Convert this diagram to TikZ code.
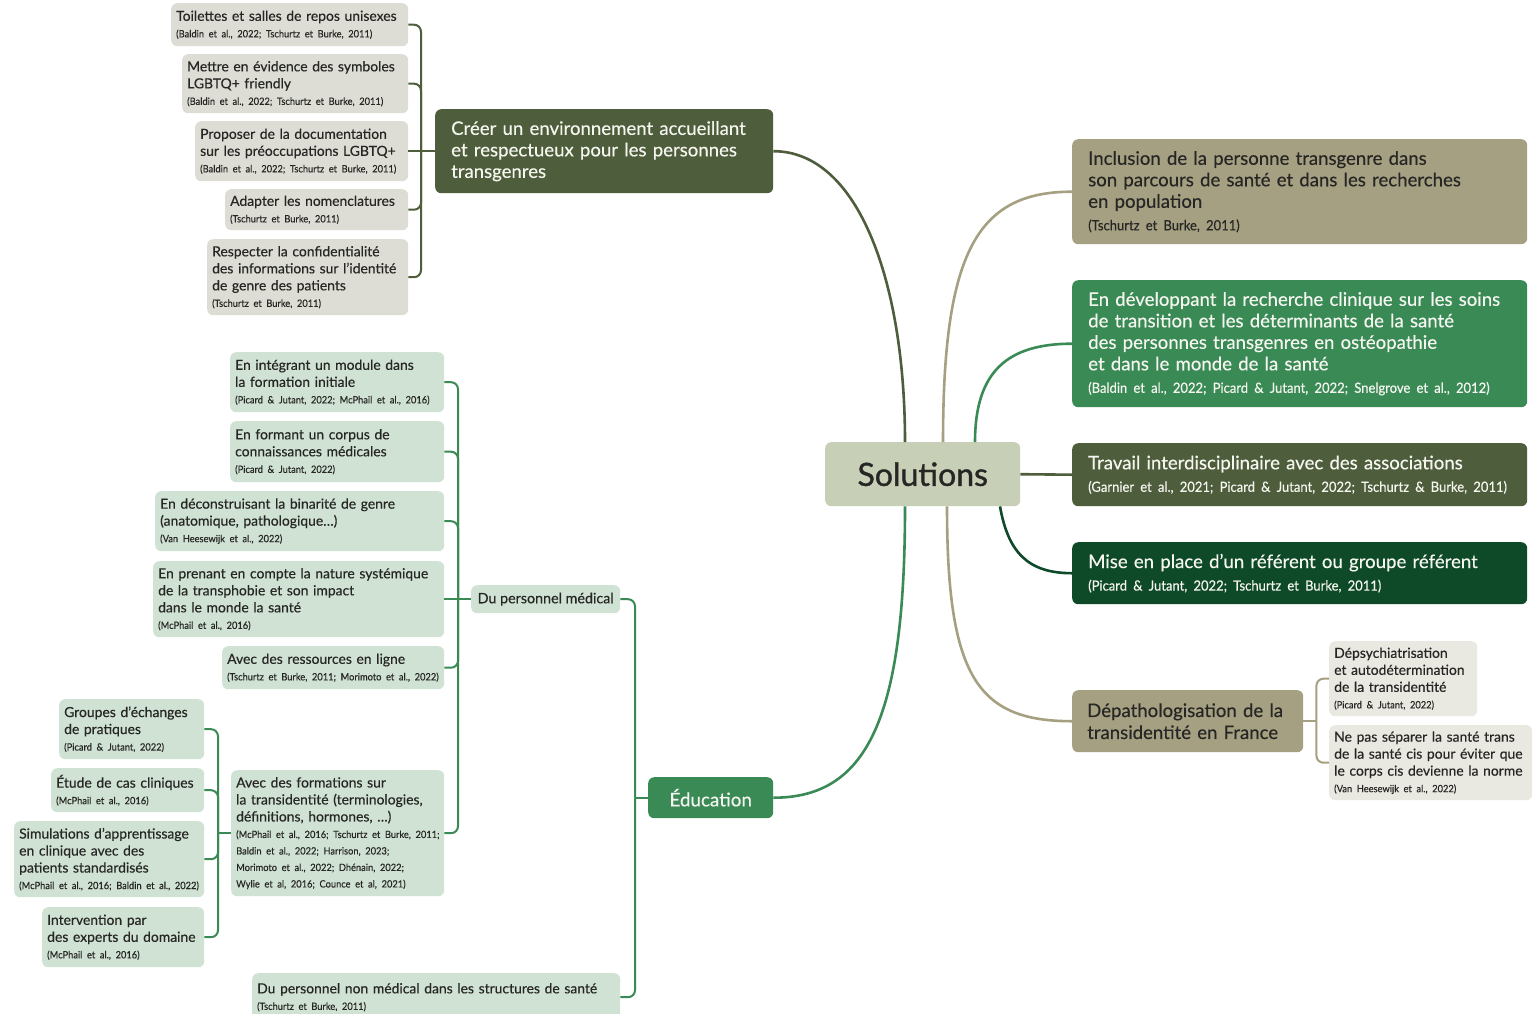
\documentclass[tikz,border=0pt]{standalone}
\usepackage{fontspec}
\setmainfont{Lato}[FakeBold=0.35]
\newfontfamily\heavyfont{Lato}[FakeBold=1.1]
\newfontfamily\citefont{Lato}[FakeBold=0.35, FakeStretch=0.93, WordSpace=0.72]
\usetikzlibrary{calc}

\frenchspacing
\hyphenpenalty=10000
\exhyphenpenalty=10000

\definecolor{cOlive}{RGB}{78,93,59}
\definecolor{cTan}{RGB}{166,160,130}
\definecolor{cGreen}{RGB}{58,138,86}
\definecolor{cDeep}{RGB}{14,74,40}
\definecolor{cLeafGray}{RGB}{221,221,213}
\definecolor{cLeafGreen}{RGB}{208,226,212}
\definecolor{cCore}{RGB}{200,207,183}
\definecolor{cPale}{RGB}{233,232,225}
\definecolor{cInk}{RGB}{38,38,36}
\definecolor{cPaper}{RGB}{246,246,240}

% small reference line under a leaf text
\newcommand\refnote[1]{\par{\citefont\fontsize{10}{16.5}\selectfont\mbox{#1}\par}}
% reference line under a large box text
\newcommand\bigrefnote[1]{\par{\citefont\fontsize{14}{22.5}\selectfont\mbox{#1}\par}}

\tikzset{
  box/.style={rounded corners=6pt, anchor=north west, align=left, inner ysep=0pt},
  leafgray/.style={box, fill=cLeafGray, text=cInk, inner xsep=5pt,
    font=\fontsize{13.9}{17}\selectfont},
  leafgreen/.style={leafgray, fill=cLeafGreen},
  leafpale/.style={leafgray, fill=cPale},
  major/.style={box, inner xsep=16pt, font=\fontsize{18.6}{21.5}\selectfont},
  edge/.style={line width=2.6pt},
  bracket/.style={line width=2pt, rounded corners=7pt},
}

\begin{document}
\begin{tikzpicture}[x=1pt, y=-1pt]
\useasboundingbox (0,0) rectangle (1538,1013);
\fill[white] (0,0) rectangle (1538,1013);

% ---- centre
\node[box, fill=cCore, text=cInk, align=center, minimum width=195pt, minimum height=64pt,
  font=\heavyfont\fontsize{32}{36}\selectfont] (sol) at (825,442) {Solutions};

% ---- welcoming environment branch
\node[major, fill=cOlive, text=cPaper, text width=306pt, minimum height=84pt] (creer) at (435,109)
  {Créer un environnement accueillant\\et respectueux pour les personnes\\transgenres};

\node[leafgray, text width=227pt, minimum height=43pt] (t1) at (171,3)
  {Toilettes et salles de repos unisexes\refnote{(Baldin et al., 2022; Tschurtz et Burke, 2011)}};
\node[leafgray, text width=216pt, minimum height=59pt] (t2) at (182,54)
  {Mettre en évidence des symboles\\LGBTQ+ friendly\refnote{(Baldin et al., 2022; Tschurtz et Burke, 2011)}};
\node[leafgray, text width=203pt, minimum height=60pt] (t3) at (195,121)
  {Proposer de la documentation\\sur les préoccupations LGBTQ+\refnote{(Baldin et al., 2022; Tschurtz et Burke, 2011)}};
\node[leafgray, text width=173pt, minimum height=41pt] (t4) at (225,189)
  {Adapter les nomenclatures\refnote{(Tschurtz et Burke, 2011)}};
\node[leafgray, text width=191pt, minimum height=76pt] (t5) at (207,239)
  {Respecter la confidentialité\\des informations sur l’identité\\de genre des patients\refnote{(Tschurtz et Burke, 2011)}};

% ---- education branch
\node[box, fill=cGreen, text=cPaper, align=center, minimum width=125pt, minimum height=41pt,
  font=\fontsize{18.8}{20}\selectfont] (edu) at (648,777) {Éducation};
\node[box, fill=cLeafGreen, text=cInk, align=center, minimum width=149pt, minimum height=28pt,
  font=\fontsize{14.3}{17}\selectfont] (pm) at (471,585) {Du personnel médical};
\node[leafgreen, text width=358pt, minimum height=48pt] (nm) at (252,973)
  {Du personnel non médical dans les structures de santé\refnote{(Tschurtz et Burke, 2011)}};

\node[leafgreen, text width=204pt, minimum height=60pt] (a) at (230,352)
  {En intégrant un module dans\\la formation initiale\refnote{(Picard \& Jutant, 2022; McPhail et al., 2016)}};
\node[leafgreen, text width=204pt, minimum height=61pt] (b) at (230,421)
  {En formant un corpus de\\connaissances médicales\refnote{(Picard \& Jutant, 2022)}};
\node[leafgreen, text width=279pt, minimum height=60pt] (c) at (155,491)
  {En déconstruisant la binarité de genre\\(anatomique, pathologique…)\refnote{(Van Heesewijk et al., 2022)}};
\node[leafgreen, text width=281pt, minimum height=76pt] (d) at (153,561)
  {En prenant en compte la nature systémique\\de la transphobie et son impact\\dans le monde la santé\refnote{(McPhail et al., 2016)}};
\node[leafgreen, text width=212pt, minimum height=43pt] (e) at (222,646)
  {Avec des ressources en ligne\refnote{(Tschurtz et Burke, 2011; Morimoto et al., 2022)}};
\node[leafgreen, text width=203pt, minimum height=126pt] (f) at (231,770)
  {Avec des formations sur\\la transidentité (terminologies,\\définitions, hormones, …)%
   \refnote{(McPhail et al., 2016; Tschurtz et Burke, 2011;}%
   \refnote{Baldin et al., 2022; Harrison, 2023;}%
   \refnote{Morimoto et al., 2022; Dhénain, 2022;}%
   \refnote{Wylie et al, 2016; Counce et al, 2021)}};

\node[leafgreen, text width=135pt, minimum height=60pt] (g1) at (59,699)
  {Groupes d’échanges\\de pratiques\refnote{(Picard \& Jutant, 2022)}};
\node[leafgreen, text width=143pt, minimum height=44pt] (g2) at (51,768)
  {Étude de cas cliniques\refnote{(McPhail et al., 2016)}};
\node[leafgreen, text width=180pt, minimum height=76pt] (g3) at (14,821)
  {Simulations d’apprentissage\\en clinique avec des\\patients standardisés\refnote{(McPhail et al., 2016; Baldin et al., 2022)}};
\node[leafgreen, text width=152pt, minimum height=60pt] (g4) at (42,907)
  {Intervention par\\des experts du domaine\refnote{(McPhail et al., 2016)}};

% ---- right-hand branches
\node[major, fill=cTan, text=cInk, text width=423pt, minimum height=105pt] (r1) at (1072,139)
  {Inclusion de la personne transgenre dans\\son parcours de santé et dans les recherches\\en population\bigrefnote{(Tschurtz et Burke, 2011)}};
\node[major, fill=cGreen, text=cPaper, text width=423pt, minimum height=127pt] (r2) at (1072,280)
  {En développant la recherche clinique sur les soins\\de transition et les déterminants de la santé\\des personnes transgenres en ostéopathie\\et dans le monde de la santé%
   \bigrefnote{(Baldin et al., 2022; Picard \& Jutant, 2022; Snelgrove et al., 2012)}};
\node[major, fill=cOlive, text=cPaper, text width=423pt, minimum height=63pt] (r3) at (1072,443)
  {Travail interdisciplinaire avec des associations\bigrefnote{(Garnier et al., 2021; Picard \& Jutant, 2022; Tschurtz \& Burke, 2011)}};
\node[major, fill=cDeep, text=cPaper, text width=423pt, minimum height=62pt] (r4) at (1072,542)
  {Mise en place d’un référent ou groupe référent\bigrefnote{(Picard \& Jutant, 2022; Tschurtz et Burke, 2011)}};
\node[major, fill=cTan, text=cInk, inner xsep=15pt, text width=201pt, minimum height=62pt,
  font=\fontsize{18.6}{22}\selectfont] (r5) at (1072,690)
  {Dépathologisation de la\\transidentité en France};
\node[leafpale, text width=138pt, minimum height=75pt] (r5a) at (1329,641)
  {Dépsychiatrisation\\et autodétermination\\de la transidentité\refnote{(Picard \& Jutant, 2022)}};
\node[leafpale, text width=193pt, minimum height=75pt] (r5b) at (1329,725)
  {Ne pas séparer la santé trans\\de la santé cis pour éviter que\\le corps cis devienne la norme\refnote{(Van Heesewijk et al., 2022)}};

% ---- attachment points on the centre box
\coordinate (sT1) at ($(sol.north west)+(80,0)$);
\coordinate (sT2) at ($(sol.north west)+(118,0)$);
\coordinate (sT3) at ($(sol.north west)+(150,0)$);
\coordinate (sB1) at ($(sol.south west)+(80,0)$);
\coordinate (sB2) at ($(sol.south west)+(122,0)$);
\coordinate (sB3) at ($(sol.south west)+(175,0)$);

% ---- main curved edges
\draw[edge, cOlive] (creer.east) .. controls ($(creer.east)+(85,0)$) and ($(sT1)+(0,-160)$) .. (sT1);
\draw[edge, cTan] (sT2) .. controls ($(sT2)+(0,-190)$) and ($(r1.west)+(-95,0)$) .. (r1.west);
\draw[edge, cGreen] (sT3) .. controls ($(sT3)+(0,-70)$) and ($(r2.west)+(-65,0)$) .. (r2.west);
\draw[edge, cOlive] (sol.east) -- (r3.west);
\draw[edge, cDeep] (sB3) .. controls ($(sB3)+(8,45)$) and ($(r4.west)+(-45,0)$) .. (r4.west);
\draw[edge, cTan] (sB2) .. controls ($(sB2)+(0,170)$) and ($(r5.west)+(-95,0)$) .. (r5.west);
\draw[edge, cGreen] (sB1) .. controls ($(sB1)+(0,210)$) and ($(edu.east)+(95,0)$) .. (edu.east);

% ---- brackets
\coordinate (jc) at ($(creer.west)+(-14,0)$);
\foreach \n in {t1,t2,t4,t5} \draw[bracket, cOlive] (\n.east) -| (jc);
\draw[bracket, cOlive] (t3.east) -- (creer.west);

\coordinate (je) at ($(edu.west)+(-13,0)$);
\foreach \n in {pm,nm} \draw[bracket, cGreen] (\n.east) -| (je);
\draw[bracket, cGreen] (je) -- (edu.west);

\coordinate (jp) at ($(pm.west)+(-13,0)$);
\foreach \n in {a,b,c,e,f} \draw[bracket, cGreen] (\n.east) -| (jp);
\draw[bracket, cGreen] (d.east) -- (pm.west);

\coordinate (jf) at ($(f.west)+(-13,0)$);
\foreach \n in {g1,g2,g3,g4} \draw[bracket, cGreen] (\n.east) -| (jf);
\draw[bracket, cGreen] (jf) -- (f.west);

\coordinate (j5) at ($(r5.east)+(13,0)$);
\foreach \n in {r5a,r5b} \draw[bracket, cTan] (\n.west) -| (j5);
\draw[bracket, cTan] (r5.east) -- (j5);
\end{tikzpicture}
\end{document}
